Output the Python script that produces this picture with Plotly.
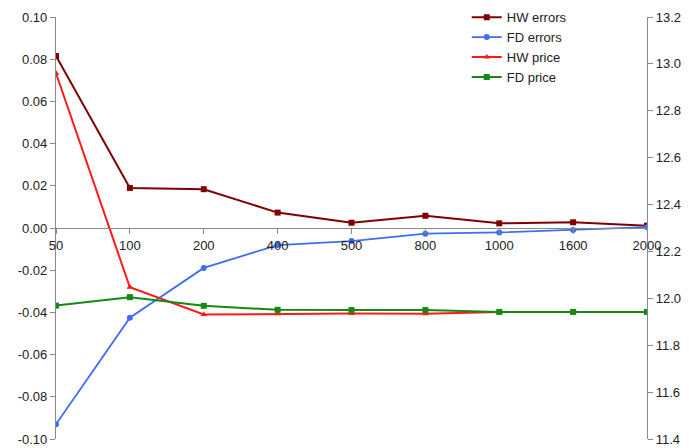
import plotly.graph_objects as go

categories = ["50", "100", "200", "400", "500", "800", "1000", "1600", "2000"]
hw_errors = [0.0815, 0.0190, 0.0184, 0.0073, 0.0025, 0.0058, 0.0022, 0.0027, 0.0011]
fd_errors = [-0.0930, -0.0425, -0.0189, -0.0081, -0.0062, -0.0027, -0.0021, -0.0010, 0.0004]
hw_price = [12.96, 12.047, 11.931, 11.934, 11.935, 11.934, 11.942, 11.942, 11.942]
fd_price = [11.969, 12.005, 11.968, 11.951, 11.950, 11.950, 11.942, 11.942, 11.942]

left_ticks = [-0.10, -0.08, -0.06, -0.04, -0.02, 0.00, 0.02, 0.04, 0.06, 0.08, 0.10]
left_labels = ["-0.10", "-0.08", "-0.06", "-0.04", "-0.02", "0.00", "0.02", "0.04", "0.06", "0.08", "0.10"]
right_ticks = [11.4, 11.6, 11.8, 12.0, 12.2, 12.4, 12.6, 12.8, 13.0, 13.2]
right_labels = ["11.4", "11.6", "11.8", "12.0", "12.2", "12.4", "12.6", "12.8", "13.0", "13.2"]

fig = go.Figure()
fig.add_trace(go.Scatter(x=categories, y=hw_errors, name="HW errors", mode="lines+markers",
                         line=dict(color="#7f0000", width=2), marker=dict(symbol="square", size=6)))
fig.add_trace(go.Scatter(x=categories, y=fd_errors, name="FD errors", mode="lines+markers",
                         line=dict(color="#3f6ff0", width=1.8), marker=dict(symbol="circle", size=6)))
fig.add_trace(go.Scatter(x=categories, y=hw_price, name="HW price", mode="lines+markers", yaxis="y2",
                         line=dict(color="#ff1a1a", width=2), marker=dict(symbol="triangle-up", size=6)))
fig.add_trace(go.Scatter(x=categories, y=fd_price, name="FD price", mode="lines+markers", yaxis="y2",
                         line=dict(color="#148a14", width=2), marker=dict(symbol="square", size=6)))

axis_font = dict(family="Liberation Sans, Arial, sans-serif", size=13, color="#222")
fig.update_layout(
    width=689, height=448,
    margin=dict(l=56, r=42, t=17, b=9, autoexpand=False),
    paper_bgcolor="white", plot_bgcolor="white",
    font=axis_font,
    showlegend=True,
    legend=dict(x=0.695, y=1.035, xanchor="left", yanchor="top", bgcolor="rgba(0,0,0,0)",
                font=dict(family="Liberation Sans, Arial, sans-serif", size=13, color="#222"),
                itemwidth=30, tracegroupgap=0),
    xaxis=dict(type="category", range=[0, 8], anchor="free", position=0.5,
               showline=True, linecolor="#888", linewidth=1.2, ticks="outside", ticklen=5,
               tickcolor="#888", showgrid=False, zeroline=False, tickfont=axis_font),
    yaxis=dict(range=[-0.1, 0.1], tickvals=left_ticks, ticktext=left_labels,
               showline=True, linecolor="#888", linewidth=1.2, ticks="outside", ticklen=5,
               tickcolor="#888", showgrid=False, zeroline=False, tickfont=axis_font),
    yaxis2=dict(range=[11.4, 13.2], tickvals=right_ticks, ticktext=right_labels,
                overlaying="y", side="right", showline=True, linecolor="#888", linewidth=1.2,
                ticks="outside", ticklen=5, tickcolor="#888", showgrid=False, zeroline=False,
                tickfont=axis_font),
)
fig.write_html("out.html", config={"displayModeBar": False},
               post_script="document.body.style.margin='0';")
